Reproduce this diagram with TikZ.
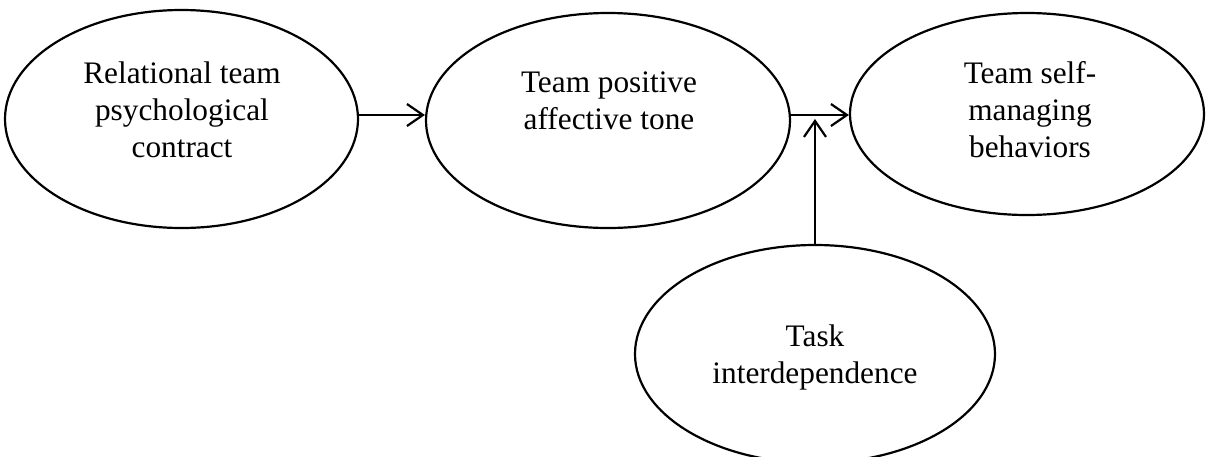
\documentclass[tikz,border=0pt]{standalone}
\usepackage{fontspec}
\setmainfont{Liberation Serif}
\usetikzlibrary{shapes.geometric,arrows.meta}
\tikzset{
  oval/.style={draw=black, line width=2.2pt, ellipse, inner sep=0pt},
  lbl/.style={align=center, anchor=north, inner sep=0pt, font=\fontsize{31.3}{37}\selectfont},
  arr/.style={line width=2.2pt, -{Straight Barb[length=16pt,width=22pt,line width=2.2pt]}}
}
\begin{document}
\begin{tikzpicture}[x=1pt,y=-1pt]
\useasboundingbox (0,0) rectangle (1207,456);
\node[oval, minimum width=353pt, minimum height=218pt] (e1) at (181.5,119) {};
\node[oval, minimum width=364pt, minimum height=215pt] (e2) at (608,120.5) {};
\node[oval, minimum width=354pt, minimum height=202pt] (e3) at (1027,114) {};
\node[oval, minimum width=360pt, minimum height=218pt] (e4) at (815,354) {};
\node[lbl] (t1) at (182,61.6) {Relational team\\psychological\\contract};
\node[lbl] (t2) at (609,71.6) {Team positive\\affective tone};
\node[lbl] (t3) at (1030,61.6) {Team self-\\managing\\behaviors};
\node[lbl] (t4) at (815,324.6) {Task\\interdependence};
\coordinate (h) at (0,115);
\coordinate (m) at (815,119);
\draw[arr] (e1.east |- h) -- (e2.west |- h);
\draw[arr] (e2.east |- h) -- (e3.west |- h);
\draw[arr] (e4.north) -- (m);
\end{tikzpicture}
\end{document}
